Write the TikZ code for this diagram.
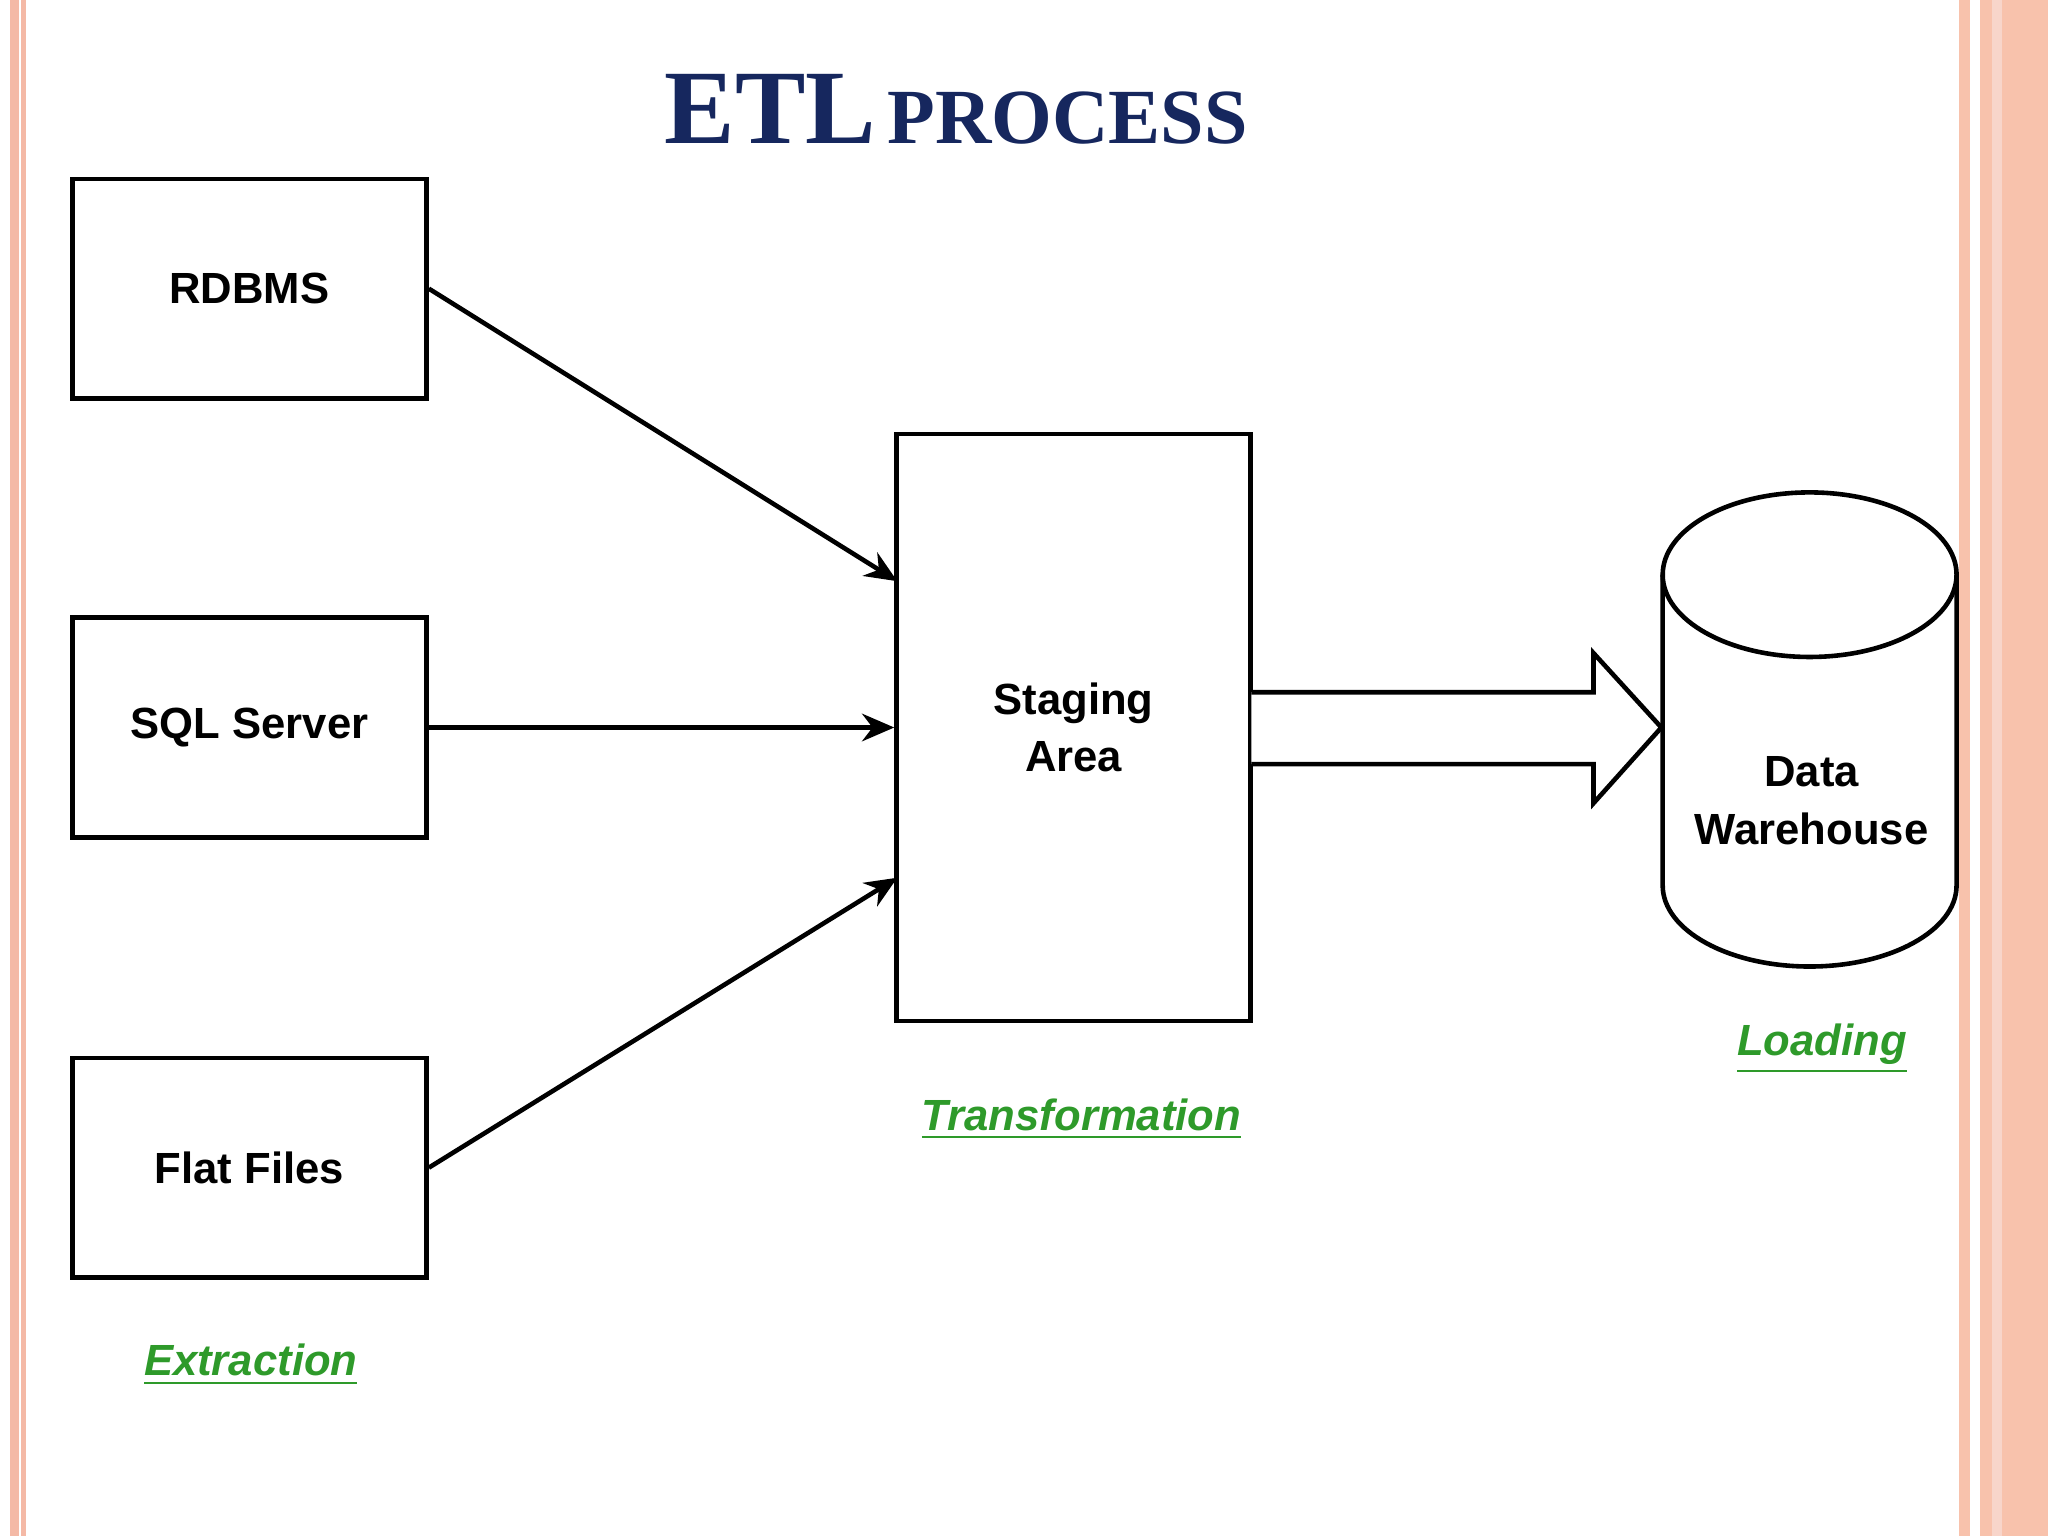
\documentclass[tikz,border=0pt]{standalone}
\usepackage{fontspec}
\setmainfont{Liberation Sans}
\newfontfamily\titlefont{Liberation Serif}
\usetikzlibrary{arrows.meta}
\definecolor{navy}{HTML}{16275E}
\definecolor{pinkline}{HTML}{F4B9A6}
\definecolor{salmon}{HTML}{F8C2AC}
\definecolor{lblgreen}{HTML}{2E9A2A}
\begin{document}
\begin{tikzpicture}[x=0.01cm,y=-0.01cm, line width=1pt,
  box/.style={draw, rectangle, minimum width=2.71cm, minimum height=1.68cm,
    font=\fontsize{9.5}{13}\selectfont\bfseries},
  stage/.style={draw, rectangle, minimum width=2.71cm, minimum height=4.49cm,
    align=center, font=\fontsize{9.5}{12.5}\selectfont\bfseries},
  phase/.style={text=lblgreen, font=\fontsize{9.5}{12}\selectfont\bfseries\itshape},
  flow/.style={-{Stealth[length=7pt,width=6pt]}}]
\useasboundingbox (0,0) rectangle (1568,1176);
\fill[white] (0,0) rectangle (1568,1176);
% slide borders
\draw[pinkline, line width=2pt] (11,0) -- (11,1176);
\draw[pinkline, line width=1pt] (18,0) -- (18,1176);
\fill[salmon] (1500,0) rectangle (1508,1176);
\fill[salmon] (1516,0) rectangle (1568,1176);
\fill[pinkline!60] (1525,0) rectangle (1533,1176);
% title
\node (title) at (732,84) {\titlefont\bfseries\color{navy}{\fontsize{23}{26}\selectfont ETL} {\fontsize{17}{20}\selectfont PROCESS}};
% sources
\node[box] (rdbms) at (191,221) {RDBMS};
\node[box] (sql) at (191,557) {SQL Server};
\node[box] (flat) at (191,894) {Flat Files};
\node[stage] (stg) at (822,557) {Staging\\Area};
\coordinate (s1) at (687,445);
\coordinate (s3) at (687,672);
\draw[flow] (rdbms.east) -- (s1);
\draw[flow] (sql.east) -- (stg.west);
\draw[flow] (flat.east) -- (s3);
% warehouse cylinder
\draw[fill=white] (1273,440) -- (1273,678) arc[start angle=180, end angle=360, x radius=112.5, y radius=-62]
  -- (1498,440);
\draw (1385.5,440) ellipse[x radius=112.5, y radius=-63];
\node[align=center, font=\fontsize{9.5}{12.5}\selectfont\bfseries] (dw) at (1387,613) {Data\\Warehouse};
% block arrow
\draw[fill=white] (958,530) -- (1220,530) -- (1220,500) -- (1272,557) -- (1220,615) -- (1220,585) -- (958,585);
% phase labels
\node[phase] (ext) at (192,1045) {\underline{Extraction}};
\node[phase] (tr) at (828,857) {\underline{Transformation}};
\node[phase] (ld) at (1395,803) {\underline{Loading}};
\end{tikzpicture}
\end{document}
